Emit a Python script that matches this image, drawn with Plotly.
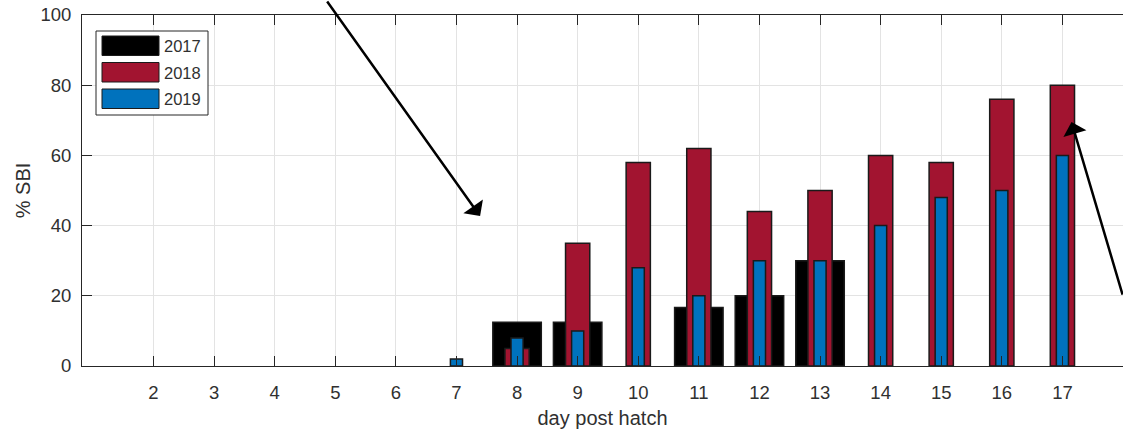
import plotly.graph_objects as go

# ---- data ----
days = list(range(2, 18))
tick_labels = [str(d) for d in days]
v2017 = [None, None, None, None, None, None, 12.5, 12.5, None, 16.7, 20, 30, None, None, None, None]
v2018 = [None, None, None, None, None, None, 5, 35, 58, 62, 44, 50, 60, 58, 76, 80]
v2019 = [None, None, None, None, None, 2, 8, 10, 28, 20, 30, 30, 40, 48, 50, 60]
series_names = ["2017", "2018", "2019"]
y_ticks = [0, 20, 40, 60, 80, 100]

colors = {"2017": "#000000", "2018": "#A21430", "2019": "#0072BD"}
widths = {"2017": 0.8, "2018": 0.4, "2019": 0.2}
values = {"2017": v2017, "2018": v2018, "2019": v2019}

FONT = "Liberation Sans, Arial, sans-serif"
TXT = "#303030"

fig = go.Figure()
for name in series_names:
    fig.add_trace(go.Bar(
        x=days, y=values[name], name=name, width=widths[name],
        marker=dict(color=colors[name], line=dict(color="#1a1a1a", width=1.5)),
        showlegend=False,
    ))

W, H = 1123, 434
ML, MR, MT, MB = 82, 0, 15, 68
pw, ph = W - ML - MR, H - MT - MB

def px(x):
    return (x - ML) / pw

def py(y):
    return (H - MB - y) / ph

# custom MATLAB-like legend
shapes = [dict(type="rect", xref="paper", yref="paper",
               x0=px(96), x1=px(208), y0=py(115), y1=py(31),
               line=dict(color="#262626", width=1), fillcolor="white", layer="above")]
annotations = []
row_tops = [36, 62.5, 89]
for i, name in enumerate(series_names):
    t = row_tops[i]
    shapes.append(dict(type="rect", xref="paper", yref="paper",
                       x0=px(102), x1=px(159), y0=py(t + 19.5), y1=py(t),
                       line=dict(color="#1a1a1a", width=1), fillcolor=colors[name], layer="above"))
    annotations.append(dict(xref="paper", yref="paper", x=px(162), y=py(t + 10),
                            text=name, showarrow=False, xanchor="left", yanchor="middle",
                            font=dict(family=FONT, size=16.5, color=TXT)))

# arrows
annotations.append(dict(xref="x", yref="y", x=7.39, y=42.7, ax=-154, ay=-226, text="",
                        showarrow=True, arrowhead=1, arrowsize=1.6, arrowwidth=2.5,
                        arrowcolor="black"))
annotations.append(dict(xref="x", yref="y", x=17.15, y=69.5, ax=55, ay=174, text="",
                        showarrow=True, arrowhead=1, arrowsize=1.6, arrowwidth=2.5,
                        arrowcolor="black"))

fig.update_layout(
    width=W, height=H,
    margin=dict(l=ML, r=MR, t=MT, b=MB, pad=0),
    barmode="overlay",
    plot_bgcolor="white", paper_bgcolor="white",
    font=dict(family=FONT, size=18.5, color=TXT),
    shapes=shapes, annotations=annotations,
    xaxis=dict(range=[0.82, 18.0], tickvals=days, ticktext=tick_labels,
               showgrid=True, gridcolor="#e3e3e3", gridwidth=1,
               zeroline=False, showline=True, linecolor="#262626", linewidth=1,
               mirror="ticks", ticks="inside", ticklen=10, tickcolor="#262626", tickwidth=1,
               ticklabelstandoff=10,
               title=dict(text="day post hatch", font=dict(size=20, color=TXT), standoff=8),
               automargin=False),
    yaxis=dict(range=[0, 100], tickvals=y_ticks,
               showgrid=True, gridcolor="#e3e3e3", gridwidth=1,
               zeroline=False, showline=True, linecolor="#262626", linewidth=1,
               mirror=False, ticks="inside", ticklen=10, tickcolor="#262626", tickwidth=1,
               ticklabelstandoff=6,
               title=dict(text="% SBI", font=dict(size=20, color=TXT), standoff=4),
               automargin=False),
)

fig.write_html("out.html", config={"displayModeBar": False},
               post_script="document.body.style.margin='0';document.body.style.overflow='hidden';")
